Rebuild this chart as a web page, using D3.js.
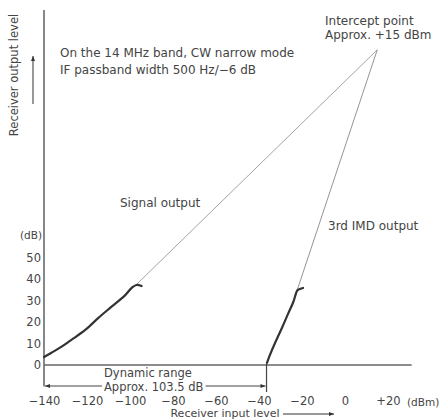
<!DOCTYPE html>
<html>
<head>
<meta charset="utf-8">
<script src="https://cdn.jsdelivr.net/npm/d3@7"></script>
<style>
  body { margin: 0; background: #fff; }
  text { font-family: "DejaVu Sans", sans-serif; fill: #444; }
</style>
</head>
<body>
<div id="chart"></div>
<script>
// values (input dBm, output dB)
var xTicks = [-140, -120, -100, -80, -60, -40, -20, 0, 20];
var yTicks = [0, 10, 20, 30, 40, 50];
var signalIn = [-140, -136.7, -132, -127.4, -120.8, -114.7, -108.7, -102.1, -99.3, -97, -94.6];
var signalOut = [3.7, 5.6, 8.4, 11.6, 16.3, 21.9, 27.0, 32.6, 35.8, 37.2, 36.7];
var imdIn = [-36.3, -34.9, -32.6, -29.4, -26.4, -24.0, -22.5, -21.9, -19.5];
var imdOut = [1, 4.7, 10.1, 17.1, 24.0, 29.4, 34.1, 34.9, 35.8];
var intercept = [15, 146.5];
var signalLineStart = [-101, 33.5];
var imdLineStart = [-23.5, 31];
var dynRange = [-140, -36.5];

var width = 442, height = 420;

var svg = d3.select("#chart").append("svg")
  .attr("width", width)
  .attr("height", height);

var x = d3.scaleLinear().domain([-140, 20]).range([44, 388]);
var y = d3.scaleLinear().domain([0, 165]).range([365, 10]);

// arrow heads
var defs = svg.append("defs");
defs.append("marker")
  .attr("id", "arrow")
  .attr("viewBox", "0 0 10 10")
  .attr("refX", 10).attr("refY", 5)
  .attr("markerWidth", 7).attr("markerHeight", 5)
  .attr("markerUnits", "userSpaceOnUse")
  .attr("orient", "auto-start-reverse")
  .append("path")
  .attr("d", "M0,1 L10,5 L0,9 Z")
  .attr("fill", "#333");

// axis lines
svg.append("line")
  .attr("x1", x(-140)).attr("x2", x(-140))
  .attr("y1", y(165)).attr("y2", y(-10))
  .attr("stroke", "#555").attr("stroke-width", 1.4);
svg.append("line")
  .attr("x1", x(-140)).attr("x2", x(31))
  .attr("y1", y(0)).attr("y2", y(0))
  .attr("stroke", "#666").attr("stroke-width", 1.4);

// y tick labels
var yAxis = svg.append("g")
  .attr("transform", "translate(" + x(-140) + ",0)")
  .call(d3.axisLeft(y).tickValues(yTicks).tickSize(0).tickPadding(3));
yAxis.select(".domain").remove();
yAxis.selectAll("text").style("font-size", "11.5px").attr("fill", "#444");
svg.append("text")
  .attr("x", x(-140) - 2).attr("y", y(60))
  .attr("dy", "0.32em")
  .attr("text-anchor", "end")
  .style("font-size", "10.5px")
  .text("(dB)");

// x tick labels
var xAxis = svg.append("g")
  .attr("transform", "translate(0,389)")
  .call(d3.axisBottom(x).tickValues(xTicks).tickSize(0).tickPadding(8)
    .tickFormat(function (d) {
      if (d > 0) return "+" + d;
      if (d < 0) return "\u2212" + Math.abs(d);
      return "0";
    }));
xAxis.select(".domain").remove();
xAxis.selectAll("text").style("font-size", "11.5px").attr("fill", "#444");
svg.append("text")
  .attr("x", 407).attr("y", 406)
  .style("font-size", "10.5px")
  .text("(dBm)");

// axis titles with arrows
svg.append("text")
  .attr("transform", "translate(18,75) rotate(-90)")
  .attr("text-anchor", "middle")
  .style("font-size", "11.5px")
  .text("Receiver output level");
svg.append("line")
  .attr("x1", 33).attr("x2", 33)
  .attr("y1", 104).attr("y2", 56)
  .attr("stroke", "#333").attr("stroke-width", 1)
  .attr("marker-end", "url(#arrow)");

svg.append("text")
  .attr("x", 225).attr("y", 417)
  .attr("text-anchor", "middle")
  .style("font-size", "11px")
  .text("Receiver input level");
svg.append("line")
  .attr("x1", 283).attr("x2", 334)
  .attr("y1", 414).attr("y2", 414)
  .attr("stroke", "#333").attr("stroke-width", 1)
  .attr("marker-end", "url(#arrow)");

// theoretical lines to the intercept point
svg.append("line")
  .attr("x1", x(signalLineStart[0])).attr("y1", y(signalLineStart[1]))
  .attr("x2", x(intercept[0])).attr("y2", y(intercept[1]))
  .attr("stroke", "#999").attr("stroke-width", 0.9);
svg.append("line")
  .attr("x1", x(imdLineStart[0])).attr("y1", y(imdLineStart[1]))
  .attr("x2", x(intercept[0])).attr("y2", y(intercept[1]))
  .attr("stroke", "#888").attr("stroke-width", 0.9);

// measured curves
var line = d3.line()
  .x(function (d) { return x(d[0]); })
  .y(function (d) { return y(d[1]); })
  .curve(d3.curveCatmullRom);

svg.append("path")
  .datum(d3.zip(signalIn, signalOut))
  .attr("d", line)
  .attr("fill", "none")
  .attr("stroke", "#333")
  .attr("stroke-width", 2.2)
  .attr("stroke-linecap", "round");
svg.append("path")
  .datum(d3.zip(imdIn, imdOut))
  .attr("d", line)
  .attr("fill", "none")
  .attr("stroke", "#333")
  .attr("stroke-width", 2.2)
  .attr("stroke-linecap", "round");

// dynamic range bracket
svg.append("line")
  .attr("x1", x(dynRange[1])).attr("x2", x(dynRange[1]))
  .attr("y1", y(1)).attr("y2", 392)
  .attr("stroke", "#444").attr("stroke-width", 1.2);
svg.append("line")
  .attr("x1", x(dynRange[0]) + 1).attr("x2", x(dynRange[1]) - 1)
  .attr("y1", 386).attr("y2", 386)
  .attr("stroke", "#444").attr("stroke-width", 1)
  .attr("marker-start", "url(#arrow)")
  .attr("marker-end", "url(#arrow)");
svg.append("text")
  .attr("x", 104).attr("y", 377)
  .style("font-size", "11.5px")
  .text("Dynamic range");
var approx = svg.append("text")
  .attr("x", 104).attr("y", 391)
  .style("font-size", "11.5px")
  .text("Approx. 103.5 dB");
var bb = approx.node().getBBox();
svg.insert("rect", function () { return approx.node(); })
  .attr("x", bb.x - 2).attr("y", bb.y + 3)
  .attr("width", bb.width + 4).attr("height", bb.height - 5)
  .attr("fill", "#fff");

// annotations
svg.append("text").attr("x", 60).attr("y", 57)
  .style("font-size", "12px")
  .text("On the 14 MHz band, CW narrow mode");
svg.append("text").attr("x", 60).attr("y", 74)
  .style("font-size", "12px")
  .text("IF passband width 500 Hz/\u22126 dB");
svg.append("text").attr("x", 325).attr("y", 25)
  .style("font-size", "12px")
  .text("Intercept point");
svg.append("text").attr("x", 325).attr("y", 39)
  .style("font-size", "12px")
  .text("Approx. +15 dBm");
svg.append("text").attr("x", 120).attr("y", 207)
  .style("font-size", "12px")
  .text("Signal output");
svg.append("text").attr("x", 328).attr("y", 230)
  .style("font-size", "12px")
  .text("3rd IMD output");
</script>
</body>
</html>
